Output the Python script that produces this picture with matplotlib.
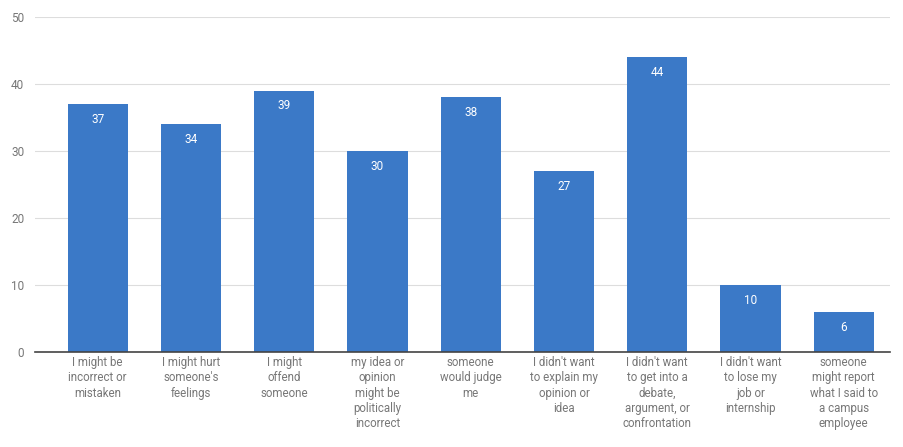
import matplotlib
matplotlib.use("Agg")
import matplotlib.pyplot as plt

categories = [
    "I might be\nincorrect or\nmistaken",
    "I might hurt\nsomeone's\nfeelings",
    "I might\noffend\nsomeone",
    "my idea or\nopinion\nmight be\npolitically\nincorrect",
    "someone\nwould judge\nme",
    "I didn't want\nto explain my\nopinion or\nidea",
    "I didn't want\nto get into a\ndebate,\nargument, or\nconfrontation",
    "I didn't want\nto lose my\njob or\ninternship",
    "someone\nmight report\nwhat I said to\na campus\nemployee",
]
values = [37, 34, 39, 30, 38, 27, 44, 10, 6]
yticks = [0, 10, 20, 30, 40, 50]

plt.rcParams['font.family'] = ['Roboto', 'DejaVu Sans']
fig = plt.figure(figsize=(9.04, 4.47), dpi=100)
ax = fig.add_axes([0.039, 0.2125, 0.946, 0.7495])
x = list(range(len(values)))
bars = ax.bar(x, values, width=0.645, color="#3b79c7", zorder=2)
for xi, v in zip(x, values):
    ax.text(xi, v - 1.3, str(v), ha="center", va="top", color="white", fontsize=8.5, zorder=3)
ax.set_xlim(-0.67, 8.5)
ax.set_ylim(0, 50)
ax.set_yticks(yticks)
ax.set_yticklabels([str(t) for t in yticks], color="#777777", fontsize=8.5)
ax.set_xticks(x)
ax.set_xticklabels(categories, color="#777777", fontsize=8.3, linespacing=1.22)
ax.tick_params(axis="x", length=0, pad=3)
ax.tick_params(axis="y", length=0, pad=8)
ax.grid(axis="y", color="#dddddd", linewidth=0.8, zorder=0)
for s in ["top", "right", "left"]:
    ax.spines[s].set_visible(False)
ax.spines["bottom"].set_color("#444444")
ax.spines["bottom"].set_linewidth(1.2)
ax.spines["bottom"].set_zorder(4)
fig.savefig("out.png", dpi=100)
